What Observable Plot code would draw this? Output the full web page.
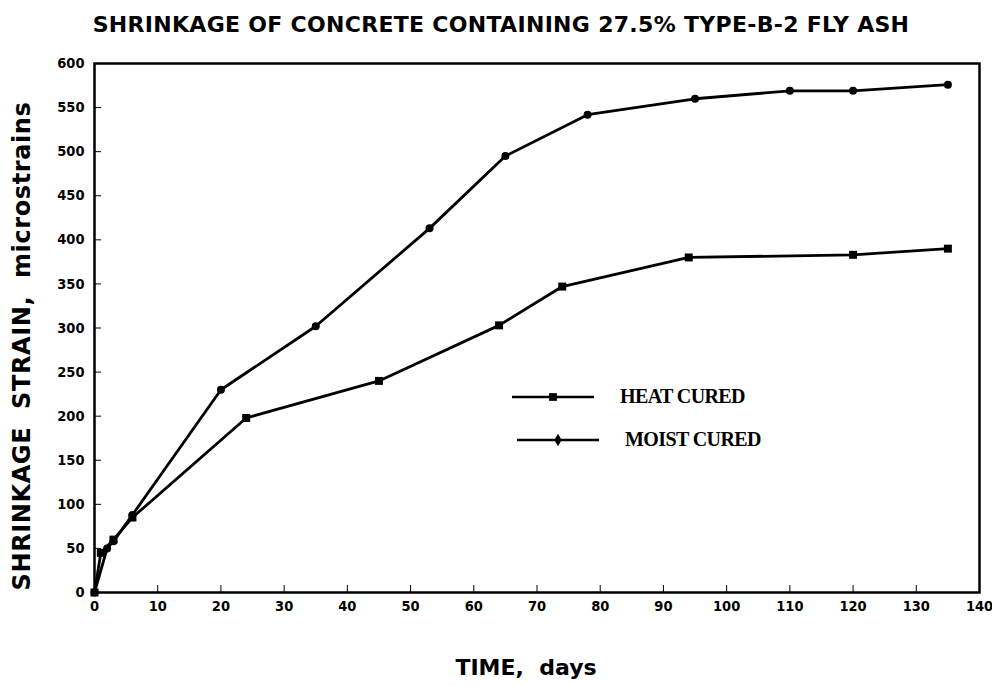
<!DOCTYPE html>
<html>
<head>
<meta charset="utf-8">
<script src="https://cdn.jsdelivr.net/npm/d3@7"></script>
<script src="https://cdn.jsdelivr.net/npm/@observablehq/plot@0.6"></script>
<style>
  html, body { margin: 0; padding: 0; background: #fff; }
  #wrap { position: relative; width: 992px; height: 686px; overflow: hidden; }
  #title { position: absolute; left: 501px; top: 24px; transform: translate(-50%, -50%); white-space: nowrap;
           font-family: "DejaVu Sans", "Liberation Sans", sans-serif; font-weight: bold; font-size: 22px;
           letter-spacing: 0.3px; color: #000; }
  #chart { position: absolute; left: 0; top: 50px; }
  #legend { position: absolute; left: 510px; top: 375px; font-family: "Liberation Serif", "Times New Roman", serif;
            font-size: 20px; font-weight: bold; color: #000; }
  .row { display: flex; align-items: center; height: 43px; }
  .row span { margin-left: 24px; letter-spacing: -0.6px; }
  .xlabel { position: absolute; left: 526px; top: 667px; transform: translate(-50%, -50%);
            font-family: "DejaVu Sans", sans-serif; font-weight: bold; font-size: 22px; white-space: pre; }
  .ylabel { position: absolute; left: 22px; top: 346px; transform: translate(-50%, -50%) rotate(-90deg);
            font-family: "DejaVu Sans", sans-serif; font-weight: bold; font-size: 24px; letter-spacing: 0.6px; white-space: pre; }
  svg { overflow: visible; }
  svg text { font-family: "DejaVu Sans Condensed", "DejaVu Sans", sans-serif; font-weight: bold; }
</style>
</head>
<body>
<div id="wrap">
  <div id="title">SHRINKAGE OF CONCRETE CONTAINING 27.5% TYPE-B-2 FLY ASH</div>
  <div id="chart"></div>
  <div id="legend"></div>
  <div class="xlabel" id="xlabel"></div>
  <div class="ylabel" id="ylabel"></div>
</div>
<script>
const heatDays    = [0, 1, 3, 6, 24, 45, 64, 74, 94, 120, 135];
const heatStrain  = [0, 45, 60, 85, 198, 240, 303, 347, 380, 383, 390];
const moistDays   = [0, 2, 3, 6, 20, 35, 53, 65, 78, 95, 110, 120, 135];
const moistStrain = [0, 50, 58, 88, 230, 302, 413, 495, 542, 560, 569, 569, 576];
const seriesNames = ["HEAT CURED", "MOIST CURED"];
const xTicks = d3.range(0, 141, 10);
const yTicks = d3.range(0, 601, 50);
const xLabel = "TIME,  days";
const yLabel = "SHRINKAGE  STRAIN,  microstrains";

const heat = heatDays.map((d, i) => ({day: d, strain: heatStrain[i]}));
const moist = moistDays.map((d, i) => ({day: d, strain: moistStrain[i]}));

const chart = Plot.plot({
  width: 992,
  height: 636,
  marginTop: 13,
  marginLeft: 94,
  marginRight: 13,
  marginBottom: 94,
  style: {fontSize: "14.5px", color: "#000", background: "#fff"},
  x: {domain: [0, 140], ticks: xTicks, tickSize: -7, tickPadding: 15, label: null},
  y: {domain: [0, 600], ticks: yTicks, tickSize: -7, tickPadding: 17, label: null},
  marks: [
    Plot.frame({stroke: "#000", strokeWidth: 2.5}),
    Plot.line(heat, {x: "day", y: "strain", stroke: "#000", strokeWidth: 2.8}),
    Plot.line(moist, {x: "day", y: "strain", stroke: "#000", strokeWidth: 2.8}),
    Plot.dot(heat, {x: "day", y: "strain", symbol: "square", r: 4.5, fill: "#000"}),
    Plot.dot(moist, {x: "day", y: "strain", symbol: "circle", r: 4, fill: "#000"})
  ]
});
document.getElementById("chart").appendChild(chart);
document.getElementById("xlabel").textContent = xLabel;
document.getElementById("ylabel").textContent = yLabel;

// legend
const legend = document.getElementById("legend");
const symbols = [d3.symbolSquare, d3.symbolDiamond];
const sizes = [60, 45];
seriesNames.forEach((name, i) => {
  const row = document.createElement("div");
  row.className = "row";
  const w = 86, h = 14;
  const svg = d3.create("svg").attr("width", w).attr("height", h).style("margin-left", i * 5 + "px");
  svg.append("line").attr("x1", 2).attr("x2", w - 2).attr("y1", h / 2).attr("y2", h / 2)
    .attr("stroke", "#000").attr("stroke-width", 2.6);
  svg.append("path").attr("transform", `translate(${w / 2},${h / 2})`)
    .attr("d", d3.symbol(symbols[i], sizes[i])()).attr("fill", "#000");
  row.appendChild(svg.node());
  const sp = document.createElement("span");
  sp.textContent = name;
  row.appendChild(sp);
  legend.appendChild(row);
});
</script>
</body>
</html>
